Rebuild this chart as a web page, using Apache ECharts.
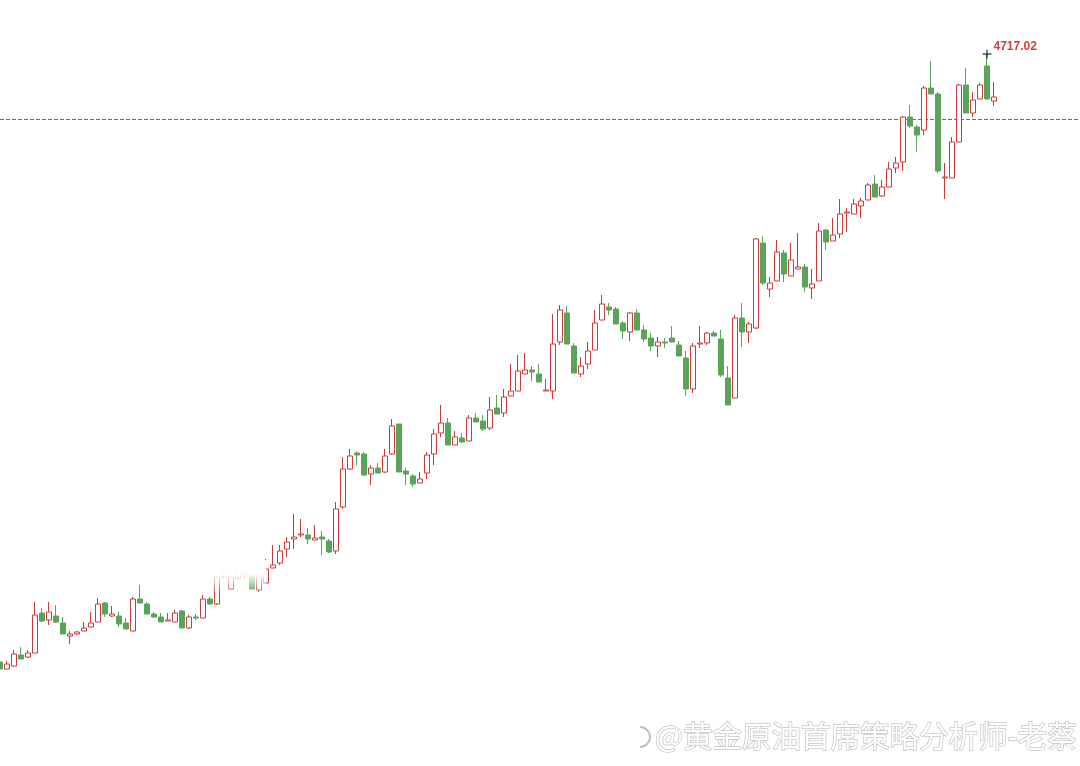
<!DOCTYPE html>
<html><head><meta charset="utf-8">
<script src="https://cdn.jsdelivr.net/npm/echarts@6/dist/echarts.min.js"></script>
<style>html,body{margin:0;padding:0;background:#fff}#c{width:1080px;height:766px}</style>
</head><body><div id="c"></div>
<script>
const opens = [4109,4102,4105,4116,4114,4118,4158,4151,4155,4148,
4135,4137,4140,4144,4149,4168,4155,4155,4148,4140,
4172,4167,4157,4154,4150,4149,4160,4143,4154,4153,
4172,4167,4194,4182,4193,4199,4196,4181,4188,4203,
4208,4222,4232,4236,4236,4231,4234,4230,4220,4264,
4302,4318,4317,4297,4303,4299,4317,4347,4300,4295,
4288,4298,4317,4338,4348,4326,4333,4330,4353,4350,
4343,4363,4358,4375,4380,4397,4401,4397,4380,4380,
4429,4458,4425,4397,4407,4421,4451,4464,4462,4448,
4439,4458,4441,4433,4425,4429,4433,4426,4413,4382,
4427,4428,4438,4432,4393,4373,4453,4439,4443,4528,
4482,4490,4518,4495,4502,4504,4483,4490,4541,4530,
4537,4558,4557,4565,4571,4587,4575,4584,4603,4609,
4654,4644,4641,4683,4677,4593,4593,4629,4686,4658,
4672,4705,4670];
const closes = [4102,4107,4117,4112,4118,4156,4150,4159,4149,4137,
4137,4139,4143,4148,4167,4157,4157,4147,4142,4172,
4168,4157,4154,4149,4151,4158,4143,4154,4153,4172,
4167,4194,4201,4194,4199,4195,4182,4196,4202,4206,
4220,4229,4234,4237,4232,4233,4232,4219,4262,4302,
4315,4316,4296,4303,4298,4315,4345,4299,4297,4287,
4292,4316,4337,4348,4326,4334,4329,4353,4349,4342,
4361,4357,4374,4380,4400,4401,4399,4389,4381,4427,
4461,4427,4398,4405,4420,4448,4467,4461,4447,4440,
4458,4441,4432,4425,4429,4428,4429,4415,4382,4425,
4428,4438,4435,4396,4366,4453,4439,4447,4532,4488,
4488,4519,4497,4511,4504,4484,4487,4540,4529,4536,
4557,4559,4567,4570,4586,4574,4584,4602,4608,4654,
4645,4636,4683,4677,4600,4594,4629,4686,4658,4671,
4686,4672,4674];
const lows = [4101,4102,4104,4112,4113,4118,4149,4146,4148,4137,
4127,4136,4140,4144,4149,4154,4154,4144,4142,4140,
4168,4157,4153,4149,4150,4149,4143,4142,4151,4153,
4166,4166,4192,4182,4191,4192,4182,4179,4188,4203,
4206,4214,4222,4234,4227,4231,4216,4218,4217,4262,
4301,4306,4295,4286,4298,4298,4316,4299,4286,4284,
4288,4292,4306,4334,4326,4326,4328,4330,4349,4340,
4341,4357,4354,4375,4380,4397,4390,4389,4380,4372,
4426,4427,4398,4394,4402,4421,4451,4456,4447,4432,
4430,4441,4429,4420,4414,4423,4429,4415,4375,4378,
4423,4426,4435,4394,4366,4373,4424,4428,4442,4486,
4474,4490,4489,4495,4502,4479,4472,4490,4521,4530,
4533,4539,4557,4553,4571,4574,4574,4584,4598,4600,
4643,4619,4636,4677,4598,4572,4593,4629,4658,4654,
4672,4672,4665];
const highs = [4110,4110,4121,4124,4121,4169,4163,4169,4166,4154,
4140,4140,4149,4159,4173,4169,4165,4159,4153,4174,
4186,4169,4159,4158,4158,4161,4161,4156,4157,4176,
4174,4195,4205,4196,4203,4202,4197,4197,4212,4226,
4226,4234,4257,4252,4243,4246,4240,4232,4269,4314,
4322,4320,4319,4306,4308,4322,4352,4347,4303,4297,
4299,4319,4342,4366,4353,4340,4338,4356,4358,4356,
4374,4376,4382,4407,4416,4418,4405,4407,4392,4457,
4466,4465,4428,4414,4429,4461,4476,4468,4464,4450,
4459,4462,4446,4438,4434,4433,4445,4430,4420,4428,
4445,4439,4440,4441,4405,4456,4468,4449,4533,4535,
4494,4531,4521,4528,4538,4507,4502,4548,4542,4553,
4572,4563,4572,4573,4588,4596,4591,4609,4614,4655,
4666,4646,4685,4710,4679,4608,4634,4687,4703,4679,
4688,4717.02,4689];
const TOTAL_SLOTS = 155;
const categories = Array.from({length: TOTAL_SLOTS}, (_, i) => 'K' + (i + 1));
const refLevel = 4651.5;
const peakIndex = 141;
const peakValue = 4717.02;
const peakLabel = '4717.02';
const watermark = '@黄金原油首席策略分析师-老蔡';

const UP = '#cc3a3c', DOWN = '#59a459', REF = '#0f8fb0';
const kData = categories.map((c, i) => i < opens.length ? [opens[i], closes[i], lows[i], highs[i]] : '-');
const refData = categories.map(() => refLevel);

const chart = echarts.init(document.getElementById('c'), null, {renderer: 'canvas'});
chart.setOption({
  animation: false,
  backgroundColor: '#fff',
  grid: {left: 0, top: 0, width: 1078, height: 766},
  xAxis: {type: 'category', data: categories, show: false, boundaryGap: false},
  yAxis: {type: 'value', min: 4005, max: 4771, show: false, splitLine: {show: false}},
  series: [{
    type: 'line',
    data: refData,
    symbol: 'none',
    silent: true,
    z: 1,
    lineStyle: {color: REF, type: [4, 2], width: 1, opacity: 1},
    emphasis: {disabled: true}
  }, {
    type: 'candlestick',
    data: kData,
    barWidth: 5,
    z: 2,
    itemStyle: {color: '#ffffff', color0: DOWN, borderColor: UP, borderColor0: DOWN, borderColorDoji: UP, borderWidth: 1},
    markPoint: {
      symbol: 'path://M0,4L9,4L9,5L0,5Z M4,0L5,0L5,9L4,9Z',
      symbolSize: 9,
      itemStyle: {color: '#000'},
      label: {show: true, formatter: peakLabel, position: [11, -3], align: 'left', verticalAlign: 'middle',
        color: '#d23f3f', fontWeight: 'bold', fontSize: 12, fontFamily: 'Liberation Sans, Arial'},
      data: [{coord: [categories[peakIndex], peakValue]}]
    }
  }],
  graphic: [
    {type: 'rect', z: 100, silent: true, shape: {x: 213, y: 560, width: 53, height: 33},
      style: {fill: new echarts.graphic.LinearGradient(0, 0, 0, 1, [
        {offset: 0, color: 'rgba(255,255,255,1)'},
        {offset: 0.45, color: 'rgba(255,255,255,0.95)'},
        {offset: 0.6, color: 'rgba(255,255,255,0.7)'},
        {offset: 0.85, color: 'rgba(255,255,255,0.3)'},
        {offset: 1, color: 'rgba(255,255,255,0)'}])}},
    {type: 'arc', z: 100, silent: true, shape: {cx: 640, cy: 737, r: 10, startAngle: -Math.PI / 2, endAngle: Math.PI / 2},
      style: {fill: 'none', stroke: 'rgba(150,150,150,0.6)', lineWidth: 2}},
    {type: 'text', z: 101, silent: true, x: 655, y: 736,
      style: {text: watermark, fill: '#ffffff', font: '29.5px "Noto Sans CJK SC"',
        align: 'left', verticalAlign: 'middle', stroke: 'rgba(160,160,160,0.6)', lineWidth: 1.5,
        strokeFirst: true, shadowBlur: 4, shadowColor: 'rgba(0,0,0,0.25)'}}
  ]
});
</script></body></html>
